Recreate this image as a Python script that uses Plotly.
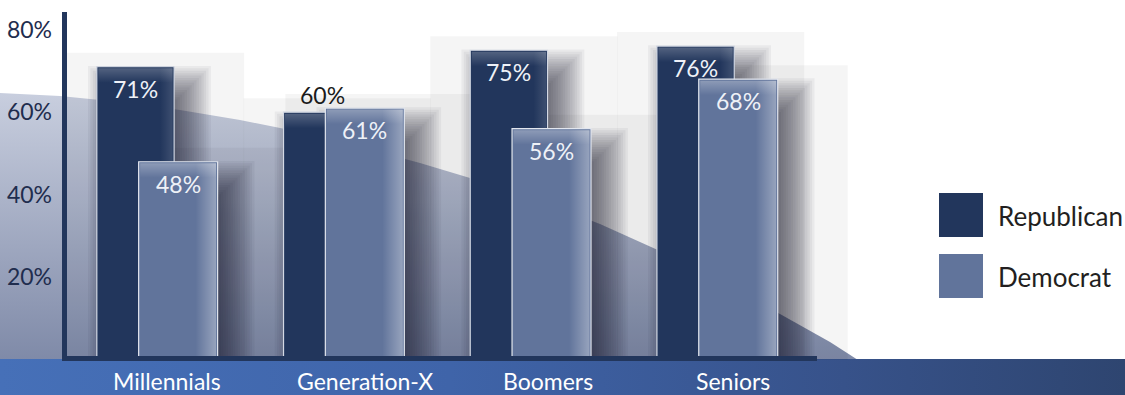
import plotly.graph_objects as go

# ---- data -------------------------------------------------------------
categories = ["Millennials", "Generation-X", "Boomers", "Seniors"]
series_names = ["Republican", "Democrat"]
republican = [71, 60, 75, 76]
democrat = [48, 61, 56, 68]
y_ticks = [20, 40, 60, 80]

# ---- geometry / style constants --------------------------------------
W, H = 1125, 395
PLOT_LEFT = 62          # left edge of the bar plotting area (px)
GROUP_PX = 186.7        # px between category centres
CENTER0_PX = 157.5      # px x of the first category centre
ZERO_PX = 360           # px y of the 0 % baseline
PX_PER_PCT = 4.13       # px per percentage point

FONT = "Lato"
REP_COLOR = "#22365c"
DEM_COLOR = "#61749b"
NAVY = "#22365c"

R_OFF, R_W = -0.325, 0.414   # Republican bar offset / width (category units)
D_OFF, D_W = -0.101, 0.423   # Democrat bar offset / width

LABEL_NUDGE = [0.05, 0.11, 0.09, 0.08]  # category label x shift (units)

x_bar_range = [(PLOT_LEFT - CENTER0_PX) / GROUP_PX, (W - CENTER0_PX) / GROUP_PX]
y_bar_range = [(ZERO_PX - H) / PX_PER_PCT, ZERO_PX / PX_PER_PCT]


def ux(p):
    """horizontal pixel length -> category units"""
    return p / GROUP_PX


def uy(p):
    """vertical pixel length -> percentage units"""
    return p / PX_PER_PCT


def rect(x0, x1, y0, y1, axes, color=None, gradient=None):
    tr = go.Scatter(
        x=[x0, x1, x1, x0, x0], y=[y0, y0, y1, y1, y0],
        mode="lines", line=dict(width=0), fill="toself",
        hoverinfo="skip", showlegend=False,
        xaxis=axes[0], yaxis=axes[1],
    )
    if gradient is not None:
        tr.fillgradient = gradient
    else:
        tr.fillcolor = color
    return tr


CANVAS = ("x", "y")     # pixel canvas for the backdrop
SHADE = ("x2", "y2")    # bar coordinates, shadows beneath every bar
REP_AX = ("x3", "y3")   # Republican bars + their highlights
DEM_AX = ("x4", "y4")   # Democrat bars + their highlights (in front)

fig = go.Figure()

# ---- backdrop ----------------------------------------------------------
curve_x = [0, 60, 120, 180, 240, 300, 360, 420, 480, 540, 600, 660, 720, 780, 830, 858, 0]
curve_y = [93, 96, 102, 110, 120, 132, 147, 163, 181, 201, 224, 251, 282, 314, 342, 360, 360]
fig.add_trace(go.Scatter(
    x=curve_x, y=curve_y, mode="lines", line=dict(width=0), fill="toself",
    fillgradient=dict(type="vertical", start=90, stop=360,
                      colorscale=[[0, "#c9cfdf"], [1, "#7f8aa8"]]),
    hoverinfo="skip", showlegend=False, xaxis="x", yaxis="y"))

fig.add_trace(rect(0, W, 359, H, CANVAS,
                   gradient=dict(type="horizontal", start=0, stop=W,
                                 colorscale=[[0, "#4670b8"], [0.4, "#3f64a9"],
                                             [0.75, "#37528a"], [1, "#2e4570"]])))

# ---- bar geometry ------------------------------------------------------
bars = []
for i, v in enumerate(republican):
    bars.append((i + R_OFF, i + R_OFF + R_W, v, "R"))
for i, v in enumerate(democrat):
    bars.append((i + D_OFF, i + D_OFF + D_W, v, "D"))

# faint filter boxes behind every bar
for left, right, top, _ in bars:
    fig.add_trace(rect(left - ux(40), right + ux(70), 0, top + uy(14), SHADE,
                       color="rgba(0,0,0,0.04)"))

# soft drop shadows (stacked translucent rectangles)
N_LAYERS, BLUR, DX, DY = 20, 48, 14, 22
for left, right, top, _ in bars:
    for k in range(N_LAYERS):
        e = -BLUR / 2 + BLUR * (k + 0.5) / N_LAYERS
        fig.add_trace(rect(left + ux(DX - e), right + ux(DX + e), 0,
                           top - uy(DY - e), SHADE, color="rgba(25,25,35,0.05)"))

# ---- bars --------------------------------------------------------------
fig.add_trace(go.Bar(
    name=series_names[0], x=list(range(len(categories))), y=republican,
    width=R_W, offset=R_OFF, xaxis=REP_AX[0], yaxis=REP_AX[1],
    marker=dict(color=REP_COLOR, line=dict(color="#d4d9e4", width=1.2)),
    hoverinfo="skip", showlegend=False))
fig.add_trace(go.Bar(
    name=series_names[1], x=list(range(len(categories))), y=democrat,
    width=D_W, offset=D_OFF, xaxis=DEM_AX[0], yaxis=DEM_AX[1],
    marker=dict(color=DEM_COLOR, line=dict(color="#e2e6ee", width=1.2)),
    hoverinfo="skip", showlegend=False))

# glossy highlights on each bar
for left, right, top, kind in bars:
    axes = DEM_AX if kind == "D" else REP_AX
    strip = 22 if kind == "D" else 14
    edge_a = 0.34 if kind == "D" else 0.12
    top_a = 0.28 if kind == "D" else 0.22
    fig.add_trace(rect(right - ux(strip), right - ux(1.5), 0.3, top - uy(1.5), axes,
                       gradient=dict(type="horizontal",
                                     start=right - ux(strip), stop=right - ux(1.5),
                                     colorscale=[[0, "rgba(255,255,255,0)"],
                                                 [1, f"rgba(255,255,255,{edge_a})"]])))
    fig.add_trace(rect(left + ux(1.5), right - ux(1.5), top - uy(16), top - uy(1.5), axes,
                       gradient=dict(type="vertical",
                                     start=top - uy(16), stop=top - uy(1.5),
                                     colorscale=[[0, "rgba(255,255,255,0)"],
                                                 [1, f"rgba(255,255,255,{top_a})"]])))

# ---- value labels --------------------------------------------------------
annotations = []
for i, (r, d) in enumerate(zip(republican, democrat)):
    above = (r - d) < 5
    annotations.append(dict(
        x=i + R_OFF + R_W / 2, y=r, xref="x3", yref="y3", text=f"{r}%",
        showarrow=False, yshift=17 if above else -22,
        font=dict(family=FONT, size=23, color="#1b1b1b" if above else "#eef1f7")))
    annotations.append(dict(
        x=i + D_OFF + D_W / 2, y=d, xref="x4", yref="y4", text=f"{d}%",
        showarrow=False, yshift=-22,
        font=dict(family=FONT, size=23, color="#eef1f7")))

# category labels on the blue band
for i, cat in enumerate(categories):
    annotations.append(dict(
        x=i + LABEL_NUDGE[i], y=(H - 381) / H, xref="x3", yref="paper",
        text=cat, showarrow=False, yanchor="middle",
        font=dict(family=FONT, size=23, color="#ffffff")))

# legend
legend_items = [(series_names[0], REP_COLOR, 193), (series_names[1], DEM_COLOR, 254)]
shapes = []
for name, color, y0 in legend_items:
    shapes.append(dict(type="rect", xref="x", yref="y", x0=939, x1=983,
                       y0=y0, y1=y0 + 44, fillcolor=color, line=dict(width=0),
                       layer="above"))
    annotations.append(dict(x=996, y=y0 + 23, xref="x", yref="y", text=name,
                            showarrow=False, xanchor="left", yanchor="middle",
                            font=dict(family=FONT, size=26, color="#231f20")))

# axis lines
shapes.append(dict(type="line", xref="x", yref="y", x0=64.5, x1=64.5, y0=12, y1=361,
                   line=dict(color=NAVY, width=5), layer="above"))
shapes.append(dict(type="line", xref="x", yref="y", x0=62, x1=817, y0=358.5, y1=358.5,
                   line=dict(color=NAVY, width=5), layer="above"))

hidden = dict(visible=False, fixedrange=True, showgrid=False, zeroline=False)
bar_x = dict(domain=[PLOT_LEFT / W, 1], range=x_bar_range, **hidden)
fig.update_layout(
    template="none",
    width=W, height=H, autosize=False,
    margin=dict(l=0, r=0, t=0, b=0, pad=0),
    paper_bgcolor="#ffffff", plot_bgcolor="rgba(0,0,0,0)",
    barmode="overlay", showlegend=False,
    xaxis=dict(domain=[0, 1], range=[0, W], **hidden),
    yaxis=dict(domain=[0, 1], range=[H, 0], **hidden),
    xaxis2=dict(anchor="y2", **bar_x),
    yaxis2=dict(domain=[0, 1], range=y_bar_range, anchor="x2", **hidden),
    xaxis3=dict(anchor="y3", **bar_x),
    yaxis3=dict(domain=[0, 1], range=y_bar_range, anchor="x3",
                tickvals=y_ticks, ticktext=[f"{t}%" for t in y_ticks],
                showgrid=False, zeroline=False, showline=False, ticks="",
                ticklabelstandoff=9, automargin=False, fixedrange=True,
                tickfont=dict(family=FONT, size=23, color="#1f2d4e")),
    xaxis4=dict(anchor="y4", **bar_x),
    yaxis4=dict(domain=[0, 1], range=y_bar_range, anchor="x4", **hidden),
    annotations=annotations,
    shapes=shapes,
)

fig.write_html("out.html")
